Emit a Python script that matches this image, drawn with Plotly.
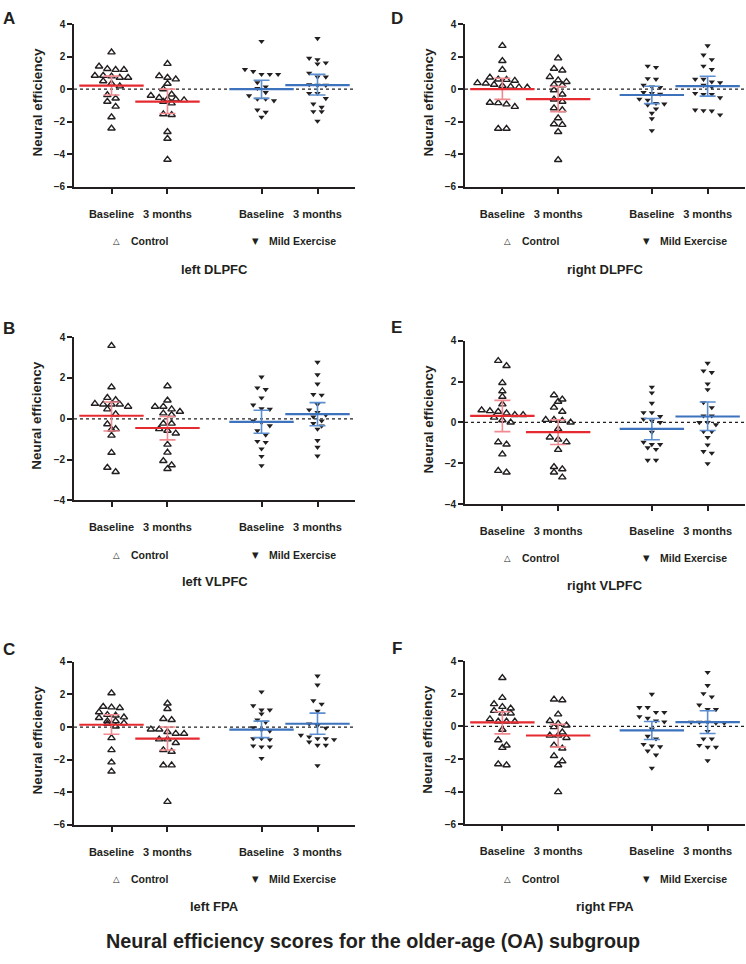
import numpy as np
import plotly.graph_objects as go

# ---------------- data ----------------
groups = ["Baseline", "3 months", "Baseline", "3 months"]
legend_names = ["Control", "Mild Exercise"]
region_titles = ["left DLPFC", "right DLPFC", "left VLPFC", "right VLPFC", "left FPA", "right FPA"]
panel_letters = ["A", "D", "B", "E", "C", "F"]
main_title = "Neural efficiency scores for the older-age (OA) subgroup"

A_ctrl_base = [2.27, 1.40, 1.25, 1.19, 1.19, 0.83, 0.83, 0.79, 0.71, 0.71, 0.49, 0.34, 0.18, -0.36, -0.57, -0.77, -1.07, -1.72, -2.41]
A_ctrl_3m = [1.56, 0.81, 0.71, 0.61, 0.34, 0.0, -0.32, -0.40, -0.53, -0.63, -0.63, -0.67, -0.77, -0.87, -1.54, -1.58, -2.63, -3.04, -4.33]
A_ex_base = [2.94, 1.21, 1.09, 0.91, 0.91, 0.91, 0.40, 0.14, 0.05, -0.20, -0.40, -0.61, -0.61, -0.71, -1.28, -1.42, -1.72]
A_ex_3m = [3.12, 1.90, 1.82, 1.62, 1.56, 0.99, 0.75, 0.75, 0.28, 0.24, 0.24, -0.26, -0.26, -0.57, -0.91, -1.11, -1.38, -1.38, -1.96]
A_mean = [0.22, -0.77, 0.0, 0.25]
A_lo = [-0.36, -1.50, -0.57, -0.36]
A_hi = [0.80, 0.0, 0.55, 0.91]

D_ctrl_base = [2.67, 1.74, 1.19, 0.72, 0.60, 0.58, 0.52, 0.38, 0.35, 0.28, 0.20, 0.15, 0.12, 0.10, -0.83, -0.85, -0.93, -1.08, -2.43, -2.43]
D_ctrl_3m = [1.90, 1.26, 1.15, 0.75, 0.55, 0.45, 0.28, 0.24, -0.06, -0.32, -0.63, -0.77, -1.17, -1.28, -1.78, -2.15, -2.19, -2.63, -4.35]
D_ex_base = [1.42, 1.34, 0.65, 0.61, 0.24, 0.14, 0.10, -0.20, -0.26, -0.30, -0.61, -0.67, -0.87, -0.91, -0.97, -1.21, -1.48, -1.82, -2.55]
D_ex_3m = [2.67, 2.10, 1.82, 1.42, 1.21, 0.61, 0.61, 0.45, 0.40, 0.24, 0.14, -0.26, -0.32, -0.32, -0.53, -1.28, -1.32, -1.34, -1.58]
D_mean = [0.0, -0.61, -0.36, 0.18]
D_lo = [-0.63, -1.38, -0.89, -0.43]
D_hi = [0.67, 0.16, 0.18, 0.79]

B_ctrl_base = [3.58, 1.55, 1.03, 0.92, 0.74, 0.71, 0.71, 0.71, 0.60, 0.47, 0.23, -0.26, -0.50, -0.53, -0.82, -1.66, -2.39, -2.60]
B_ctrl_3m = [1.60, 0.90, 0.60, 0.60, 0.47, 0.35, 0.27, 0.19, -0.23, -0.23, -0.50, -0.58, -0.71, -1.26, -1.65, -2.06, -2.27, -2.45]
B_ex_base = [2.05, 1.52, 1.44, 1.03, 0.68, 0.50, 0.47, -0.10, -0.18, -0.34, -0.58, -0.79, -1.10, -1.15, -1.47, -1.84, -2.29]
B_ex_3m = [2.77, 2.16, 1.71, 1.19, 1.16, 0.71, 0.44, 0.31, 0.19, 0.10, -0.10, -0.23, -0.35, -0.50, -1.06, -1.39, -1.82]
B_mean = [0.15, -0.45, -0.15, 0.23]
B_lo = [-0.60, -1.03, -0.71, -0.34]
B_hi = [0.82, 0.11, 0.42, 0.79]

E_ctrl_base = [3.02, 2.77, 1.94, 1.53, 1.26, 0.89, 0.60, 0.56, 0.53, 0.45, 0.37, 0.37, 0.24, 0.11, 0.0, -0.97, -1.08, -1.56, -2.37, -2.45]
E_ctrl_3m = [1.34, 1.13, 1.02, 0.73, 0.53, 0.13, 0.13, 0.08, 0.0, -0.32, -0.73, -0.84, -0.97, -1.34, -2.18, -2.29, -2.45, -2.69]
E_ex_base = [1.73, 1.45, 0.94, 0.48, 0.48, 0.29, 0.16, 0.08, 0.0, -0.48, -0.97, -1.08, -1.08, -1.24, -1.32, -1.85, -1.85]
E_ex_3m = [2.90, 2.53, 2.45, 1.89, 1.61, 0.97, 0.73, 0.32, 0.32, 0.0, 0.0, -0.11, -0.44, -0.44, -0.73, -1.10, -1.42, -1.50, -2.02]
E_mean = [0.32, -0.48, -0.32, 0.29]
E_lo = [-0.45, -1.08, -0.85, -0.40]
E_hi = [1.08, 0.13, 0.19, 1.00]

C_ctrl_base = [2.08, 1.25, 1.21, 1.17, 0.91, 0.75, 0.71, 0.60, 0.56, 0.36, 0.36, 0.24, 0.20, 0.04, -0.67, -1.41, -2.16, -2.72]
C_ctrl_3m = [1.45, 1.11, 0.50, 0.44, -0.14, -0.14, -0.30, -0.40, -0.40, -0.75, -0.75, -0.97, -1.41, -1.51, -2.34, -2.34, -4.58]
C_ex_base = [2.16, 1.31, 1.05, 1.05, 0.81, 0.44, 0.30, -0.04, -0.16, -0.24, -0.71, -0.71, -0.77, -1.15, -1.21, -1.21, -1.92]
C_ex_3m = [3.13, 2.58, 1.61, 1.41, 0.97, 0.20, 0.10, -0.06, -0.50, -0.60, -0.71, -0.71, -0.77, -0.91, -1.11, -1.11, -2.36]
C_mean = [0.14, -0.71, -0.16, 0.20]
C_lo = [-0.44, -1.41, -0.65, -0.44]
C_hi = [0.75, 0.0, 0.36, 0.85]

F_ctrl_base = [2.97, 1.75, 1.37, 1.20, 1.10, 0.96, 0.80, 0.80, 0.44, 0.30, 0.30, 0.30, -0.20, -0.84, -1.16, -1.31, -2.31, -2.37]
F_ctrl_3m = [1.65, 1.61, 0.74, 0.34, 0.16, 0.06, -0.04, -0.36, -0.56, -0.56, -0.70, -1.16, -1.35, -1.81, -2.13, -2.37, -4.02]
F_ex_base = [1.97, 1.16, 1.16, 0.86, 0.86, 0.60, 0.50, 0.34, 0.28, -0.16, -0.60, -0.76, -1.10, -1.20, -1.24, -1.50, -1.75, -2.55]
F_ex_3m = [3.31, 2.51, 2.01, 1.81, 1.31, 1.04, 1.04, 0.26, 0.26, 0.26, 0.20, 0.20, -0.30, -0.76, -0.76, -1.16, -1.27, -1.27, -2.09]
F_mean = [0.24, -0.56, -0.24, 0.26]
F_lo = [-0.46, -1.27, -0.80, -0.44]
F_hi = [0.90, 0.12, 0.30, 0.96]

y_ranges = [[-6, 4], [-6, 4], [-4, 4], [-4, 4], [-6, 4], [-6, 4]]

# ---------------- styling / layout geometry ----------------
W, H = 746, 964
FONT = "Liberation Sans, Arial, Helvetica, sans-serif"
INK = "#231f20"
RED, RED_CI = "#e52a30", "#f08a90"
BLUE, BLUE_CI = "#3d72bd", "#5b8fd2"
XPOS = [1.0, 2.0, 3.68, 4.68]
XRANGE = [0.33, 5.35]

# (axis left, axis right, axis top, axis bottom, legend y, title y, letter x, letter y) in px
geom = [
    (74, 355, 18.3, 183.0, 238, 267, 9, 12.5),
    (465, 745, 18.3, 183.0, 238, 267, 396.5, 12.5),
    (74, 355, 335.3, 500.7, 556, 583, 9, 327),
    (465, 745, 339.0, 504.3, 559, 587, 396.5, 326),
    (74, 355, 664.0, 829.3, 884, 912, 9, 652),
    (465, 745, 663.3, 828.7, 884, 912, 396.5, 651),
]

panel_data = [
    ([A_ctrl_base, A_ctrl_3m, A_ex_base, A_ex_3m], A_mean, A_lo, A_hi),
    ([D_ctrl_base, D_ctrl_3m, D_ex_base, D_ex_3m], D_mean, D_lo, D_hi),
    ([B_ctrl_base, B_ctrl_3m, B_ex_base, B_ex_3m], B_mean, B_lo, B_hi),
    ([E_ctrl_base, E_ctrl_3m, E_ex_base, E_ex_3m], E_mean, E_lo, E_hi),
    ([C_ctrl_base, C_ctrl_3m, C_ex_base, C_ex_3m], C_mean, C_lo, C_hi),
    ([F_ctrl_base, F_ctrl_3m, F_ex_base, F_ex_3m], F_mean, F_lo, F_hi),
]


def px_y(p):
    return 1 - p / H


def px_x(p):
    return p / W


def swarm(vals, center, ppu_y, step, thr_px=5.5):
    """Simple GraphPad-like scatter: points of similar value are set side by side."""
    vals = np.asarray(vals, dtype=float)
    order = np.argsort(-vals, kind="stable")
    rows, cur = [], []
    for i in order:
        if cur and (vals[cur[0]] - vals[i]) * ppu_y > thr_px:
            rows.append(cur)
            cur = []
        cur.append(i)
    if cur:
        rows.append(cur)
    xs = np.zeros(len(vals))
    for row in rows:
        k = len(row)
        for j, i in enumerate(row):
            xs[i] = center + (j - (k - 1) / 2.0) * step
    return xs


fig = go.Figure()
layout = dict(
    width=W, height=H, margin=dict(l=0, r=0, t=0, b=0),
    paper_bgcolor="white", plot_bgcolor="white", showlegend=False,
    font=dict(family=FONT, color=INK),
)
annotations = []
shapes = []

for k in range(6):
    series, means, lo, hi = panel_data[k]
    L, R, T, Bt, leg_y, title_y, lx, ly = geom[k]
    yr = y_ranges[k]
    sfx = "" if k == 0 else str(k + 1)
    xa, ya = "x" + sfx, "y" + sfx
    ppu_x = (R - L) / (XRANGE[1] - XRANGE[0])
    ppu_y = (Bt - T) / (yr[1] - yr[0])
    step = 8.3 / ppu_x

    # points
    for g in range(4):
        ctrl = g < 2
        xs = swarm(series[g], XPOS[g], ppu_y, step)
        fig.add_trace(go.Scatter(
            x=xs, y=series[g], mode="markers", xaxis=xa, yaxis=ya,
            marker=dict(symbol="triangle-up-open" if ctrl else "triangle-down",
                        size=6.5 if ctrl else 5.5, color=INK,
                        line=dict(width=1.4 if ctrl else 0, color=INK)),
            hoverinfo="y",
        ))
    # mean + 95% CI
    for g in range(4):
        ctrl = g < 2
        fig.add_trace(go.Scatter(
            x=[XPOS[g]], y=[means[g]], mode="markers", xaxis=xa, yaxis=ya,
            marker=dict(symbol="line-ew", size=46,
                        line=dict(width=2.2, color=RED if ctrl else BLUE)),
            error_y=dict(type="data", symmetric=False,
                         array=[hi[g] - means[g]], arrayminus=[means[g] - lo[g]],
                         color=RED_CI if ctrl else BLUE_CI, thickness=1.6, width=8),
            hoverinfo="y",
        ))

    layout["xaxis" + sfx] = dict(
        domain=[px_x(L), px_x(R)], range=XRANGE, anchor=ya,
        showline=True, linecolor=INK, linewidth=1.6, mirror=False,
        ticks="outside", ticklen=5, tickwidth=1.6, tickcolor=INK,
        tickvals=XPOS, ticktext=groups, ticklabelstandoff=11,
        tickfont=dict(family=FONT, size=11, color=INK, weight="bold"),
        showgrid=False, zeroline=False, fixedrange=True,
    )
    layout["yaxis" + sfx] = dict(
        domain=[px_y(Bt), px_y(T)], range=yr, anchor=xa,
        showline=True, linecolor=INK, linewidth=1.6,
        ticks="outside", ticklen=5, tickwidth=1.6, tickcolor=INK,
        tick0=0, dtick=2,
        tickfont=dict(family=FONT, size=10, color=INK, weight="bold"),
        showgrid=False, zeroline=False, fixedrange=True,
    )
    # dotted zero line
    shapes.append(dict(type="line", xref=xa + " domain", yref=ya, x0=0, x1=1, y0=0, y1=0,
                       line=dict(color=INK, width=1.2, dash="dot"), layer="below"))

    # y-axis title
    annotations.append(dict(text="Neural efficiency", textangle=-90, xref="paper", yref="paper",
                            x=px_x(L - 37), y=px_y((T + Bt) / 2 - 3), showarrow=False,
                            xanchor="center", yanchor="middle",
                            font=dict(family=FONT, size=13.5, color=INK, weight="bold")))
    # legend (symbol + label)
    off = L - 74
    for sym, name, mx, tx in [("\u25b3", legend_names[0], 116.7, 129.0),
                              ("\u25bc", legend_names[1], 255.0, 266.7)]:
        annotations.append(dict(text=sym, xref="paper", yref="paper", x=px_x(mx + off), y=px_y(leg_y),
                                xanchor="center", yanchor="middle", showarrow=False,
                                font=dict(family="DejaVu Sans", size=8.5, color=INK, weight="bold")))
        annotations.append(dict(text=name, xref="paper", yref="paper", x=px_x(tx + off), y=px_y(leg_y),
                                xanchor="left", yanchor="middle", showarrow=False,
                                font=dict(family=FONT, size=10.5, color=INK, weight="bold")))
    # region title
    annotations.append(dict(text=region_titles[k], xref="paper", yref="paper",
                            x=px_x((L + R) / 2), y=px_y(title_y), xanchor="center", yanchor="middle",
                            showarrow=False, font=dict(family=FONT, size=13, color=INK, weight="bold")))
    # panel letter
    annotations.append(dict(text=panel_letters[k], xref="paper", yref="paper",
                            x=px_x(lx), y=px_y(ly), xanchor="center", yanchor="middle",
                            showarrow=False, font=dict(family=FONT, size=17, color=INK, weight="bold")))

annotations.append(dict(text=main_title, xref="paper", yref="paper", x=px_x(373), y=px_y(947),
                        xanchor="center", yanchor="middle", showarrow=False,
                        font=dict(family=FONT, size=19.8, color=INK, weight="bold")))

layout["annotations"] = annotations
layout["shapes"] = shapes
fig.update_layout(**layout)
fig.write_html(
    "out.html", config={"displayModeBar": False},
    post_script=("document.documentElement.style.margin='0px';"
                 "document.body.style.margin='0px';"
                 "document.documentElement.style.overflow='hidden';"
                 "document.body.style.overflow='hidden';"),
)
